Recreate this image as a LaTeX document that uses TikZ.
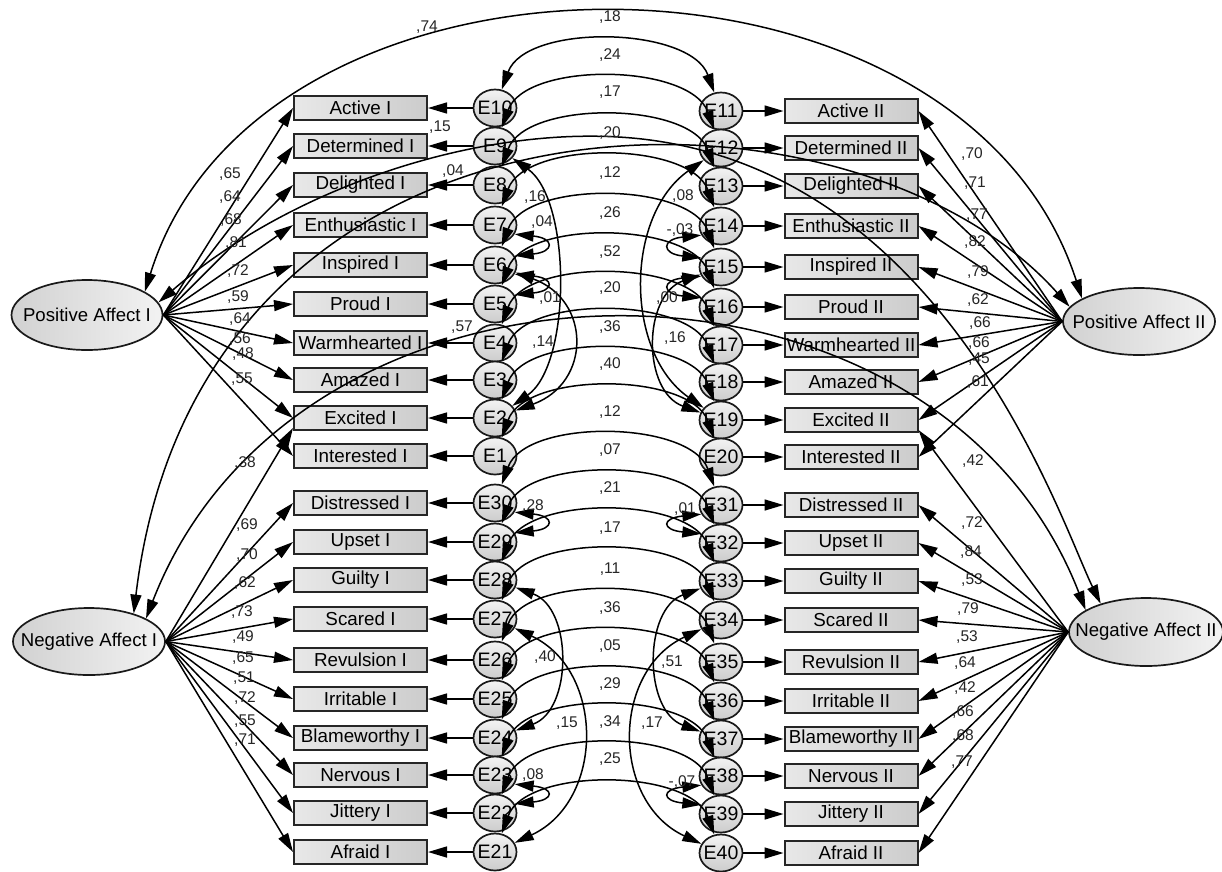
\documentclass[tikz,border=0pt]{standalone}
\usepackage{fontspec}
\setmainfont{Liberation Sans}
\usetikzlibrary{arrows.meta,shapes.geometric}
\newcommand\cz[1]{\makebox[0pt]{#1}}
\begin{document}
\begin{tikzpicture}[x=1pt,y=1pt,
  >={Triangle[length=19pt,width=11pt]},
  obs/.style={draw=black!85,line width=2pt,rectangle,minimum width=133pt,minimum height=24pt,inner sep=0pt,left color=black!9,right color=black!20,font=\fontsize{18.8}{20}\selectfont},
  err/.style={draw=black!90,line width=1.7pt,ellipse,minimum width=43pt,minimum height=37pt,inner sep=0pt,top color=black!5,bottom color=black!20,font=\fontsize{19.5}{20}\selectfont},
  lat/.style={draw=black!90,line width=1.7pt,ellipse,minimum width=152pt,minimum height=68pt,inner sep=0pt,left color=black!18,right color=black!5,font=\fontsize{18.6}{20}\selectfont},
  one/.style={line width=1.5pt,->},
  two/.style={line width=1.5pt,<->},
  lab/.style={font=\fontsize{15.5}{16}\selectfont,inner sep=0pt,text=black!85},
]
\useasboundingbox (0,0) rectangle (1222,-871);
\fill[white] (0,0) rectangle (1222,-871);

% observed variables, left
\foreach \n/\y/\t in {1/108/Active I,2/146/Determined I,3/185/Delighted I,4/225/Enthusiastic I,5/265/Inspired I,6/304/Proud I,7/343/Warmhearted I,8/380/Amazed I,9/418/Excited I,10/456/Interested I,11/503/Distressed I,12/542/Upset I,13/580/Guilty I,14/619/Scared I,15/660/Revulsion I,16/699/Irritable I,17/738/Blameworthy I,18/775/Nervous I,19/813/Jittery I,20/852/Afraid I}
  \node[obs] (a\n) at (360.5,-\y) {\t};
% observed variables, right
\foreach \n/\y/\t in {1/111/Active II,2/148/Determined II,3/186/Delighted II,4/226/Enthusiastic II,5/267/Inspired II,6/307/Proud II,7/345/Warmhearted II,8/382/Amazed II,9/420/Excited II,10/457/Interested II,11/505/Distressed II,12/543/Upset II,13/581/Guilty II,14/620/Scared II,15/662/Revulsion II,16/701/Irritable II,17/739/Blameworthy II,18/776/Nervous II,19/814/Jittery II,20/853/Afraid II}
  \node[obs] (d\n) at (851,-\y) {\t};
% errors left
\foreach \n/\y/\e in {1/108/10,2/146/9,3/185/8,4/225/7,5/265/6,6/304/5,7/343/4,8/380/3,9/418/2,10/456/1,11/503/30,12/542/29,13/580/28,14/619/27,15/660/26,16/699/25,17/738/24,18/775/23,19/813/22,20/852/21}
  \node[err] (E\e) at (495,-\y) {\cz{E\e}};
% errors right
\foreach \n/\y/\e in {1/111/11,2/148/12,3/186/13,4/226/14,5/267/15,6/307/16,7/345/17,8/382/18,9/420/19,10/457/20,11/505/31,12/543/32,13/581/33,14/620/34,15/662/35,16/701/36,17/739/37,18/776/38,19/814/39,20/853/40}
  \node[err] (E\e) at (721,-\y) {\cz{E\e}};

% latent variables
\node[lat,minimum width=151pt,minimum height=70pt] (PA1) at (87,-315) {\cz{Positive Affect I}};
\node[lat,minimum height=67pt] (NA1) at (89,-641.5) {\cz{Negative Affect I}};
\node[lat,minimum height=67pt] (PA2) at (1139,-321.5) {\cz{Positive Affect II}};
\node[lat,minimum width=154pt] (NA2) at (1146,-632) {\cz{Negative Affect II}};

% error -> indicator
\foreach \n/\e in {1/10,2/9,3/8,4/7,5/6,6/5,7/4,8/3,9/2,10/1,11/30,12/29,13/28,14/27,15/26,16/25,17/24,18/23,19/22,20/21}
  \draw[one] (E\e) -- (a\n);
\foreach \n/\e in {1/11,2/12,3/13,4/14,5/15,6/16,7/17,8/18,9/19,10/20,11/31,12/32,13/33,14/34,15/35,16/36,17/37,18/38,19/39,20/40}
  \draw[one] (E\e) -- (d\n);

% loadings
\foreach \n in {1,...,10} \draw[one] (PA1.east) -- (a\n.west);
\foreach \n in {11,...,20} \draw[one] (NA1.east) -- (a\n.west);
\foreach \n in {1,...,10} \draw[one] (PA2.west) -- (d\n.east);
\foreach \n in {11,...,20} \draw[one] (NA2.west) -- (d\n.east);
% cross loadings
\draw[one] (NA1.east) -- ([yshift=3pt]a9.south west);
\draw[one] (NA2.west) -- ([yshift=3pt]d9.south east);

% error covariances across time
\foreach \l/\r in {10/11,9/12,8/13,7/14,6/15,5/16,4/17,3/18,2/19,1/20,30/31,29/32,28/33,27/34,26/35,25/36,24/37,23/38,22/39,21/40}
  \draw[two] (E\l) to[out=70,in=110,looseness=0.85] (E\r);

% error covariances within time
\draw[two] (E9) to[out=-35,in=35,looseness=0.75] (E2);
\draw[two] (E6) to[out=-20,in=20,looseness=1.5] (E2);
\draw[two] (E12) to[out=-145,in=145,looseness=1] (E19);
\draw[two] (E15) to[out=-160,in=160,looseness=1.15] (E19);
\draw[two] (E28) to[out=-20,in=20,looseness=1.09] (E24);
\draw[two] (E27) to[out=-25,in=25,looseness=1.19] (E21);
\draw[two] (E33) to[out=-160,in=160,looseness=1.09] (E37);
\draw[two] (E34) to[out=-155,in=155,looseness=1.19] (E40);
\draw[two] (E7.-25) .. controls +(40,-4) and +(40,4) .. (E6.25);
\draw[two] (E6.-25) .. controls +(40,-4) and +(40,4) .. (E5.25);
\draw[two] (E30.-25) .. controls +(40,-4) and +(40,4) .. (E29.25);
\draw[two] (E23.-25) .. controls +(40,-4) and +(40,4) .. (E22.25);
\draw[two] (E14.-155) .. controls +(-40,-4) and +(-40,4) .. (E15.155);
\draw[two] (E15.-155) .. controls +(-40,-4) and +(-40,4) .. (E16.155);
\draw[two] (E31.-155) .. controls +(-40,-4) and +(-40,4) .. (E32.155);
\draw[two] (E38.-155) .. controls +(-40,-4) and +(-40,4) .. (E39.155);

% factor covariances
\coordinate (mA) at (650,-140);
\draw[two] (PA1.22) .. controls (260,80) and (960,80) .. (PA2.158);
\draw[two] (PA1.10) .. controls (300,-180) and (500,-120) .. (mA) .. controls (950,-180) and (1060,-520) .. (NA2.148);
\draw[two] (NA1.32) .. controls (200,-60) and (850,-60) .. (PA2.168);
\draw[two] (NA1.22) .. controls (300,-222) and (935,-222) .. (NA2.160);

% labels
\foreach \x/\y/\t [count=\k] in {230/174/{,65},230/197/{,64},231/220/{,68},236/243/{,81},238/271/{,72},238/297/{,59},240/319/{,64},240/339/{,56},243/354/{,48},242/379/{,55},245/463/{,38},247/525/{,69},247/555/{,70},245/583/{,62},242/612/{,73},243/637/{,49},243/658/{,65},244/678/{,51},245/698/{,72},245/721/{,55},245/740/{,71},
972/154/{,70},975/183/{,71},977/215/{,77},975/242/{,82},978/272/{,79},978/300/{,62},980/323/{,66},979/343/{,66},979/359/{,45},978/382/{,61},973/461/{,42},972/523/{,72},971/552/{,84},972/580/{,53},968/609/{,79},967/637/{,53},965/663/{,64},965/688/{,42},963/712/{,66},963/736/{,68},962/762/{,77},
427/27/{,74},440/127/{,15},453/171/{,04},462/327/{,57},
610/17/{,18},610/55/{,24},610/92/{,17},610/133/{,20},610/173/{,12},610/213/{,26},610/252/{,52},610/288/{,20},610/327/{,36},610/364/{,40},610/412/{,12},610/450/{,07},610/488/{,21},610/528/{,17},610/569/{,11},610/608/{,36},610/646/{,05},610/684/{,29},610/722/{,34},610/759/{,25},
535/197/{,16},542/222/{,04},550/298/{,01},543/342/{,14},683/196/{,08},680/230/{-,03},667/298/{,00},675/338/{,16},533/506/{,28},545/657/{,40},567/723/{,15},533/775/{,08},685/509/{,01},672/662/{,51},652/723/{,17},682/782/{-,07}}
  \node[lab] (L\k) at (\x,-\y) {\t};
\end{tikzpicture}
\end{document}
